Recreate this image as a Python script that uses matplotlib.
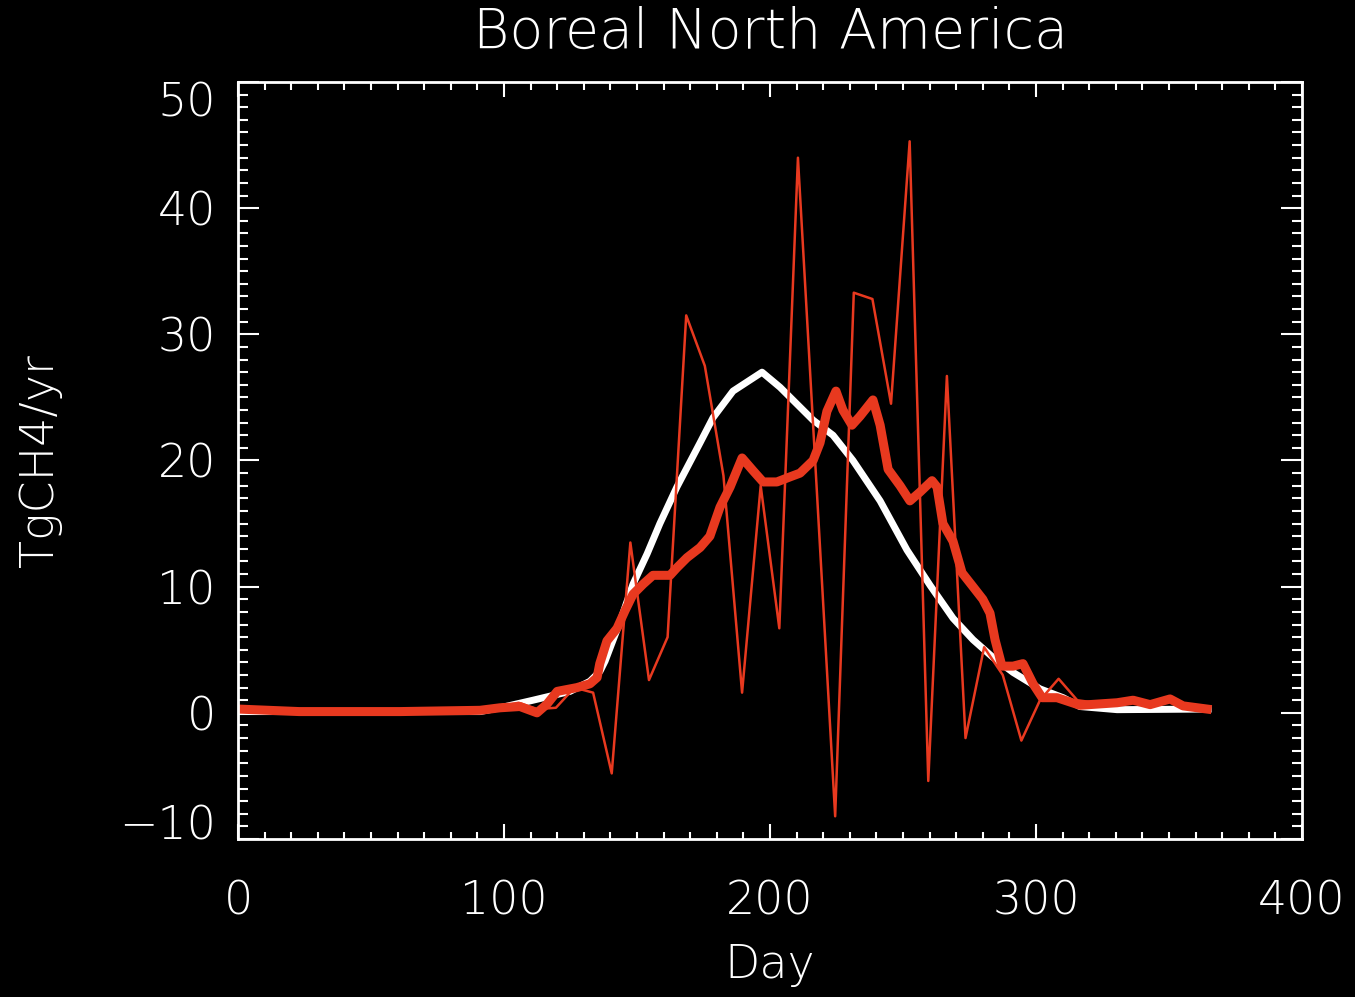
import numpy as np
import matplotlib
matplotlib.use('Agg')
import matplotlib.pyplot as plt
from matplotlib.ticker import MultipleLocator

# weekly series (thin red)
week_day = [0.5 + 7 * k for k in range(53)]
week_val = [0.3, 0.3, 0.3, 0.2, 0.2, 0.2, 0.2, 0.2, 0.2, 0.2,
            0.2, 0.3, 0.3, 0.4, 0.5, 0.8, 0.3, 0.4, 2.0, 1.6,
            -4.8, 13.5, 2.6, 6.0, 31.5, 27.5, 18.8, 1.6, 18.0, 6.7,
            44.0, 18.0, -8.2, 33.3, 32.8, 24.5, 45.3, -5.4, 26.7, -2.0,
            5.2, 3.0, -2.2, 1.0, 2.7, 1.0, 0.8, 0.8, 0.9, 0.6,
            1.0, 0.5, 0.4]

# smoothed series (thick red)
smooth_day = [0, 23, 61, 91, 98.5, 106, 112.4, 116.2, 120, 127.4,
              132.3, 135, 136, 138.7, 142.5, 145.5, 148.5, 152.3, 156, 162.4,
              165, 168.8, 173.7, 177.4, 181.2, 185, 189.5, 193.6, 197.4, 202.6,
              207.5, 211.3, 216.2, 218.8, 221.4, 224.8, 227.4, 230.8, 233.8, 238.7,
              241.4, 244.4, 248.9, 252.6, 256.4, 260.9, 262.8, 265, 268.8, 272.2,
              276.3, 280, 282.7, 284.6, 287.2, 291.4, 295.1, 298.9, 302.3, 307.9,
              316.5, 330.5, 336.5, 342.9, 350.4, 355.3, 364.3]
smooth_val = [0.3, 0.1, 0.1, 0.2, 0.4, 0.5, 0.0, 0.7, 1.7, 2.0,
              2.3, 2.8, 3.9, 5.7, 6.7, 8.1, 9.4, 10.2, 10.9, 10.9,
              11.5, 12.3, 13.1, 14.0, 16.3, 17.9, 20.2, 19.2, 18.3, 18.3,
              18.7, 19.0, 20.0, 21.4, 23.9, 25.5, 24.0, 22.8, 23.5, 24.8,
              22.8, 19.3, 18.0, 16.8, 17.5, 18.4, 17.9, 15.0, 13.6, 11.1,
              10.0, 9.0, 7.9, 5.8, 3.7, 3.7, 3.9, 2.3, 1.2, 1.2,
              0.6, 0.8, 1.0, 0.65, 1.1, 0.55, 0.3]

# prior (white)
prior_day = [0, 91, 98.5, 110.9, 124.8, 132.3, 136.1, 138, 143.6, 148.5,
             153.8, 158.6, 165, 173.7, 178.6, 186.1, 197, 203.8, 216.2, 223.7,
             231.2, 241.4, 251.5, 260.2, 268.8, 276.3, 283.8, 291.4, 301.5, 310.2,
             316.5, 330.5, 364.7]
prior_val = [0.1, 0.1, 0.4, 1.0, 1.7, 2.5, 3.3, 4.1, 7.2, 10.2,
             12.6, 15.0, 17.9, 21.4, 23.4, 25.5, 27.0, 25.8, 23.2, 22.0,
             20.0, 16.8, 12.9, 10.1, 7.5, 5.8, 4.4, 3.2, 1.9, 1.2,
             0.5, 0.25, 0.3]

red = '#e8391f'
fs = 33

plt.rcParams['font.family'] = ['DejaVu Sans']
fig = plt.figure(figsize=(13.55, 9.97), dpi=100, facecolor='black')
ax = fig.add_axes([238 / 1355, (997 - 839) / 997, 1064 / 1355, 757 / 997])
ax.set_facecolor('black')

ax.plot(prior_day, prior_val, color='white', lw=5)
ax.plot(smooth_day, smooth_val, color=red, lw=6.5)
ax.plot(week_day, week_val, color=red, lw=1.8)

ax.set_xlim(0, 400)
ax.set_ylim(-10, 50)
ax.set_xticks([0, 100, 200, 300, 400])
ax.set_yticks(range(-10, 51, 10))
ax.xaxis.set_minor_locator(MultipleLocator(10))
ax.yaxis.set_minor_locator(MultipleLocator(1))

for s in ax.spines.values():
    s.set_color('white')
    s.set_linewidth(2)

ax.tick_params(axis='both', which='both', direction='in', colors='white',
               top=True, right=True, width=1.5, labelsize=fs)
ax.tick_params(axis='x', which='major', length=10.8, pad=29)
ax.tick_params(axis='x', which='minor', length=5.4)
ax.tick_params(axis='y', which='major', length=15, pad=16)
ax.tick_params(axis='y', which='minor', length=7.5)

for lab in ax.get_xticklabels() + ax.get_yticklabels():
    lab.set_fontweight('light')
ylabs = ax.get_yticklabels()
ylabs[0].set_verticalalignment('baseline')
ylabs[-1].set_verticalalignment('top')

ax.set_xlabel('Day', color='white', fontsize=fs, fontweight='light')
ax.xaxis.set_label_coords(0.5, -(965 - 839) / 757)
ax.xaxis.label.set_verticalalignment('center')
ax.set_ylabel('TgCH4/yr', color='white', fontsize=fs, fontweight='light')
ax.yaxis.set_label_coords(-(238 - 40) / 1064, 0.5)
ax.yaxis.label.set_verticalalignment('center')

ax.text(0.5, 1 + (82 - 33) / 757, 'Boreal North America', transform=ax.transAxes,
        ha='center', va='center', color='white', fontsize=40, fontweight='light')

fig.savefig('out.png', dpi=100, facecolor='black')
